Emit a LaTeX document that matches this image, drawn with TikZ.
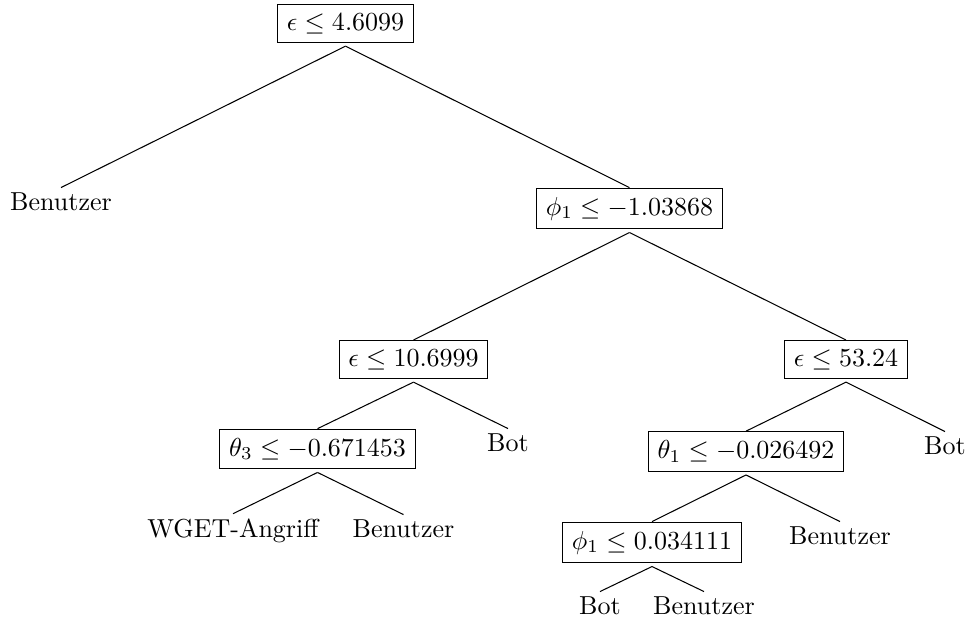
\documentclass[tikz,border=0pt]{standalone}
\begin{document}
\begin{tikzpicture}[x=0.38462pt,y=-0.38462pt,
  decision/.style={draw,line width=0.4pt,inner xsep=3.5pt,inner ysep=3.4pt,anchor=center},
  leaf/.style={inner xsep=0pt,inner ysep=1.6pt,anchor=base},
  branch/.style={line width=0.4pt}]
\useasboundingbox (0,0) rectangle (969,623);
% decision nodes
\node[decision] (root) at (345.5,23.5) {$\epsilon \leq 4.6099$};
\node[decision] (phiA) at (629.5,208.5) {$\phi_1 \leq -1.03868$};
\node[decision] (epsB) at (413.5,359.5) {$\epsilon \leq 10.6999$};
\node[decision] (epsC) at (846,359.5) {$\epsilon \leq 53.24$};
\node[decision] (thA) at (317.5,449) {$\theta_3 \leq -0.671453$};
\node[decision] (thB) at (746,451.5) {$\theta_1 \leq -0.026492$};
\node[decision] (phiB) at (652,542.5) {$\phi_1 \leq 0.034111$};
% leaves
\node[leaf] (l1) at (61,210) {Benutzer};
\node[leaf] (l2) at (508,451) {Bot};
\node[leaf] (l3) at (233,537) {WGET-Angriff};
\node[leaf] (l4) at (403.5,537) {Benutzer};
\node[leaf] (l5) at (945,454) {Bot};
\node[leaf] (l6) at (840,544) {Benutzer};
\node[leaf] (l7) at (600,614) {Bot};
\node[leaf] (l8) at (704,614) {Benutzer};
% connectors
\draw[branch] ([yshift=-1.2pt]root.south) -- (l1.north);
\draw[branch] ([yshift=-1.2pt]root.south) -- (phiA.north);
\draw[branch] ([yshift=-1.2pt]phiA.south) -- (epsB.north);
\draw[branch] ([yshift=-1.2pt]phiA.south) -- (epsC.north);
\draw[branch] ([yshift=-1.2pt]epsB.south) -- (thA.north);
\draw[branch] ([yshift=-1.2pt]epsB.south) -- (l2.north);
\draw[branch] ([yshift=-1.2pt]thA.south) -- (l3.north);
\draw[branch] ([yshift=-1.2pt]thA.south) -- (l4.north);
\draw[branch] ([yshift=-1.2pt]epsC.south) -- (thB.north);
\draw[branch] ([yshift=-1.2pt]epsC.south) -- (l5.north);
\draw[branch] ([yshift=-1.2pt]thB.south) -- (phiB.north);
\draw[branch] ([yshift=-1.2pt]thB.south) -- (l6.north);
\draw[branch] ([yshift=-1.2pt]phiB.south) -- (l7.north);
\draw[branch] ([yshift=-1.2pt]phiB.south) -- (l8.north);
\end{tikzpicture}
\end{document}
